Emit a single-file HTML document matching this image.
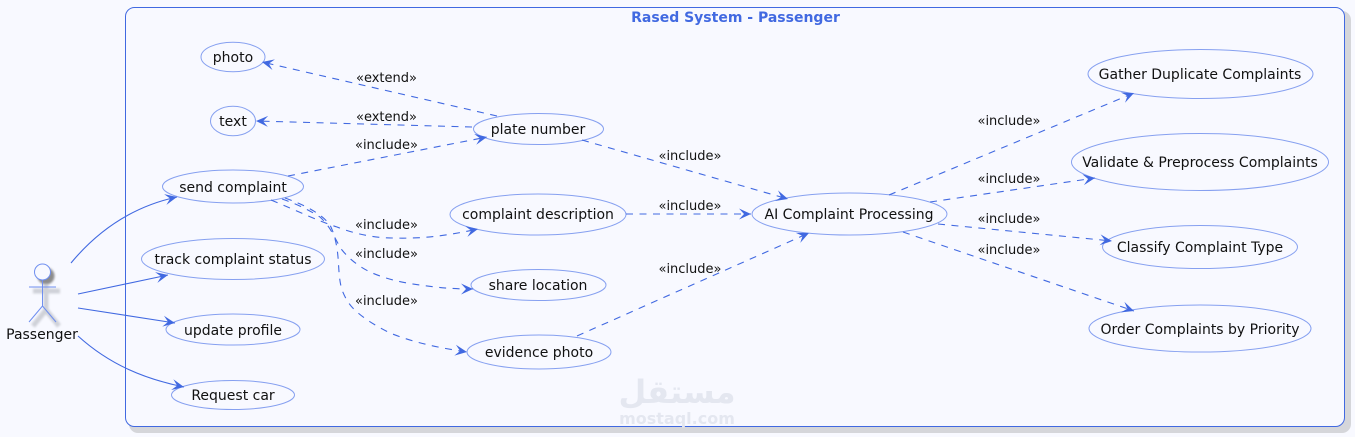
<!DOCTYPE html>
<html><head><meta charset="utf-8"><style>
html,body{margin:0;padding:0;background:#f8f9ff;width:1355px;height:437px;overflow:hidden}
svg{display:block}
text{font-family:"DejaVu Sans",sans-serif;font-size:14px;fill:#111;text-anchor:middle}
.l{font-size:13px}
.e{fill:#f8f9ff;stroke:#86a0f0;stroke-width:1}
.a{fill:none;stroke:#4169e1;stroke-width:1.1;marker-end:url(#ah)}
.d{fill:none;stroke:#4169e1;stroke-width:1.1;stroke-dasharray:7 6.500;marker-end:url(#ah)}
</style></head><body>
<svg width="1355" height="437" viewBox="0 0 1355 437" xmlns="http://www.w3.org/2000/svg">
<defs>
<marker id="ah" markerUnits="userSpaceOnUse" markerWidth="16" markerHeight="14" refX="14" refY="7" orient="auto">
<path d="M14,7 L2,1.500 L7,7 L2,12.500 Z" fill="#4169e1"/>
</marker>
<filter id="bl" x="-30%" y="-30%" width="160%" height="160%"><feGaussianBlur stdDeviation="1"/></filter>
</defs>
<rect x="129" y="11" width="1222" height="422" rx="9" fill="#d5d6da"/>
<rect x="125.500" y="7.500" width="1219" height="419" rx="9" fill="#f8f9ff" stroke="#4169e1" stroke-width="1"/>
<text x="735.500" y="22" style="font-weight:bold;fill:#4169e1;font-size:14px">Rased System - Passenger</text>

<!-- actor shadow -->
<g filter="url(#bl)" stroke="#cfd1d8" fill="none" stroke-width="5">
<circle cx="46" cy="276" r="8" fill="#8c8c8c" stroke="#8c8c8c" stroke-width="1"/>
<path d="M33 291H60"/><path d="M46 284V310"/><path d="M46 310L33 326M46 310L59 326"/>
</g>
<g stroke="#6f8ff0" fill="none" stroke-width="1">
<circle cx="42.500" cy="272" r="8" fill="#f8f9ff"/>
<path d="M29 287H56M42.500 280V306M42.500 306L29 322M42.500 306L56 322"/>
</g>

<!-- ellipses -->
<ellipse class="e" cx="233" cy="57" rx="32" ry="14.700"/>
<ellipse class="e" cx="233" cy="121" rx="22.500" ry="14.700"/>
<ellipse class="e" cx="233" cy="186.500" rx="70.500" ry="16.500"/>
<ellipse class="e" cx="233" cy="259" rx="91.500" ry="20.500"/>
<ellipse class="e" cx="233" cy="329.500" rx="67" ry="15.500"/>
<ellipse class="e" cx="233" cy="395" rx="61.500" ry="14.500"/>
<ellipse class="e" cx="538.500" cy="129" rx="65" ry="15.500"/>
<ellipse class="e" cx="538" cy="214.500" rx="88" ry="20.500"/>
<ellipse class="e" cx="538.500" cy="285" rx="67.500" ry="15.500"/>
<ellipse class="e" cx="539" cy="352" rx="72" ry="17"/>
<ellipse class="e" cx="849.500" cy="214" rx="97.500" ry="21"/>
<ellipse class="e" cx="1200.500" cy="74" rx="112.500" ry="24.500"/>
<ellipse class="e" cx="1200" cy="162" rx="128.500" ry="28.500"/>
<ellipse class="e" cx="1200" cy="247" rx="97.500" ry="21.500"/>
<ellipse class="e" cx="1200" cy="328.500" rx="111" ry="23.500"/>

<!-- solid -->
<path class="a" d="M71 263C100 228 135 206 177 197"/>
<path class="a" d="M78 294L168 275"/>
<path class="a" d="M78 308L175 323"/>
<path class="a" d="M78 336C110 365 145 379 184 387"/>

<!-- dashed -->
<path class="d" d="M497 116L262 62"/>
<path class="d" d="M472 127L256 121"/>
<path class="d" d="M288 176L487 137"/>
<path class="d" d="M271 200C300 212 318 221 337 227C355 234 375 238 393 238C425 239 450 235 478 229"/>
<path class="d" d="M282 199C300 205 312 212 320 217C332 228 335 240 342 250C350 260 360 267 370 272C388 280 405 283 420 285C440 288 455 289 473 289"/>
<path class="d" d="M285 198C305 205 322 214 330 225C335 235 337 246 338 257C339 270 339 280 342 290C346 300 350 306 357 312C366 320 378 327 390 333C415 343 440 348 467 352"/>
<path class="d" d="M582 140L788 199"/>
<path class="d" d="M626 214L751 214"/>
<path class="d" d="M577 336L809 233"/>
<path class="d" d="M889 195L1134 93"/>
<path class="d" d="M930 202L1095 178"/>
<path class="d" d="M938 224L1112 241"/>
<path class="d" d="M903 232L1134 311"/>

<!-- node text -->
<text x="42" y="339">Passenger</text>
<text x="233" y="62">photo</text>
<text x="233" y="126">text</text>
<text x="233" y="192">send complaint</text>
<text x="233" y="264">track complaint status</text>
<text x="233" y="335">update profile</text>
<text x="233" y="400">Request car</text>
<text x="538" y="134">plate number</text>
<text x="538" y="219">complaint description</text>
<text x="538" y="290">share location</text>
<text x="539" y="357">evidence photo</text>
<text x="849" y="219">AI Complaint Processing</text>
<text x="1200" y="79">Gather Duplicate Complaints</text>
<text x="1200" y="167">Validate &amp; Preprocess Complaints</text>
<text x="1200" y="252">Classify Complaint Type</text>
<text x="1200" y="334">Order Complaints by Priority</text>

<!-- labels -->
<text class="l" x="386.500" y="82">«extend»</text>
<text class="l" x="386.500" y="121">«extend»</text>
<text class="l" x="386.500" y="149">«include»</text>
<text class="l" x="386.500" y="229">«include»</text>
<text class="l" x="386.500" y="258">«include»</text>
<text class="l" x="386.500" y="305">«include»</text>
<text class="l" x="690" y="160">«include»</text>
<text class="l" x="690" y="210">«include»</text>
<text class="l" x="690" y="273">«include»</text>
<text class="l" x="1009" y="125">«include»</text>
<text class="l" x="1009" y="183">«include»</text>
<text class="l" x="1009" y="223">«include»</text>
<text class="l" x="1009" y="254">«include»</text>

<!-- watermark -->
<text x="677" y="403" style="font-weight:bold;font-size:32px;fill:#e4e7f0">مستقل</text>
<text x="677" y="424" style="font-weight:bold;font-size:16px;fill:#e4e7f0">mostaql.com</text>
</svg>
</body></html>
